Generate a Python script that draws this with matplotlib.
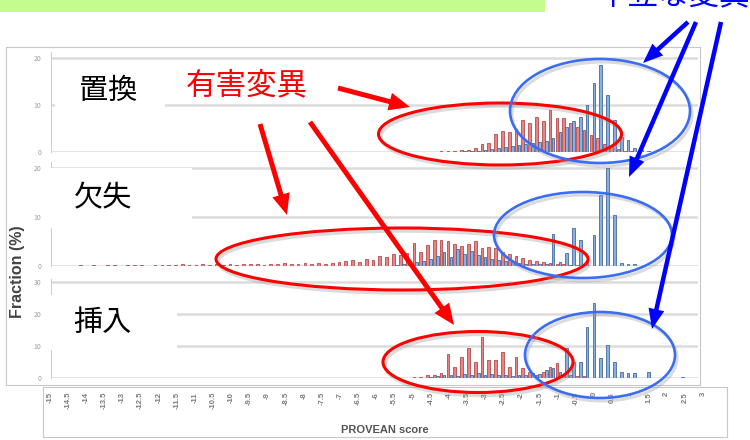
import numpy as np
import matplotlib
matplotlib.use('Agg')
import matplotlib.pyplot as plt
from matplotlib.patches import Ellipse, Rectangle, FancyArrow

plt.rcParams['font.family'] = ['Noto Sans CJK JP', 'DejaVu Sans']

W, H = 750, 440
n_bins = 95

# 置換 (substitution): red = deleterious, blue = neutral, values in %
sub_red_start = 56
sub_red = [0.1, 0.2, 0.2, 0.3, 0.4, 0.5, 0.8,
           1.8, 2.0, 3.8, 4.5, 4.3, 4.8, 6.8, 6.1, 7.5, 6.5,
           8.9, 7.2, 7.2, 6.1, 5.4, 4.7, 3.6, 2.9, 1.8, 1.0,
           0.6, 0.3, 0.2]
sub_blue_start = 60
sub_blue = [0.2, 0.3, 0.3, 0.5, 0.6, 0.8, 1.0, 1.2, 1.5, 1.8,
            2.0, 2.2, 2.4, 2.9, 4.3, 5.4, 6.5, 7.5, 10.0, 14.6,
            18.5, 12.1, 6.8, 3.3, 2.5, 0.8, 0.4, 0.2]

# 欠失 (deletion)
del_red_start = 4
del_red = [0.2, 0.0, 0.3, 0.0, 0.2, 0.3, 0.0, 0.2, 0.3, 0.2,
           0.0, 0.3, 0.2, 0.3, 0.2, 0.4, 0.3, 0.2, 0.4, 0.3,
           0.4, 0.3, 0.5, 0.3, 0.4, 0.5, 0.4, 0.3, 0.5, 0.4,
           0.6, 0.4, 0.5, 0.6, 0.5, 0.7, 0.5, 0.6, 0.8,
           1.0, 1.2, 0.8, 1.4, 1.2, 2.0, 1.8, 2.4, 2.2, 2.6,
           4.6, 2.8, 4.3, 5.3, 5.3, 5.0, 4.5, 4.0, 4.5, 5.0,
           3.6, 3.9, 3.6, 2.9, 2.4, 2.0, 1.6, 1.2, 1.0, 0.9,
           0.7, 0.5, 0.5, 0.3, 0.3]
del_blue_start = 50
del_blue = [0.3, 0.5, 0.4, 0.8, 1.0, 1.5, 2.0, 2.8, 1.8, 3.5,
            2.5, 3.0, 2.2, 1.8, 1.5, 1.2, 1.0, 0.8, 0.6, 0.5,
            0.5, 0.4, 0.4, 6.5, 0.8, 2.6, 7.7, 5.3, 1.0, 6.3,
            14.5, 20.0, 10.4, 0.6, 0.5, 0.5]

# 挿入 (insertion)
ins_red_start = 53
ins_red = [0.3, 0.4, 0.8, 1.0, 1.5, 7.4, 3.5, 6.4, 9.3, 5.1,
           12.9, 5.6, 5.6, 8.2, 3.5, 6.4, 3.0, 2.0, 1.0, 2.0,
           3.5, 4.6, 1.0, 0.8, 0.5, 0.5]
ins_blue_start = 55
ins_blue = [0.3, 0.5, 0.8, 1.0, 0.6, 1.2, 0.8, 1.5, 1.0, 1.2,
            0.8, 1.0, 0.6, 0.8, 1.0, 1.5, 1.2, 2.5, 3.0, 2.0,
            9.3, 5.1, 5.1, 16.0, 23.3, 6.1, 10.3, 5.1, 2.0, 1.5,
            1.5, 0.0, 2.0, 0.0, 0.0, 0.0, 0.0, 0.4]

panel_names = ["置換", "欠失", "挿入"]
panel_yticks = [[0, 10, 20], [0, 10, 20], [0, 10, 20, 30]]
panel_ymax = [21.3, 21.2, 30.9]
# x tick strip (separate pasted strip under the chart)
score_labels = ["%g" % v for v in np.arange(-15, 3.01, 0.5)]
xlabel = "PROVEAN score"
ylabel = "Fraction (%)"
bad_label = "有害変異"
neutral_label = "中立な変異"


def full(start, vals):
    a = np.zeros(n_bins)
    a[start:start + len(vals)] = vals
    return a


series = [(full(sub_red_start, sub_red), full(sub_blue_start, sub_blue)),
          (full(del_red_start, del_red), full(del_blue_start, del_blue)),
          (full(ins_red_start, ins_red), full(ins_blue_start, ins_blue))]

fig = plt.figure(figsize=(W / 100, H / 100), dpi=100)


def px_axes(x0, y0, x1, y1, **kw):
    return fig.add_axes([x0 / W, 1 - y1 / H, (x1 - x0) / W, (y1 - y0) / H], **kw)


# frame of the chart
frame = px_axes(6, 47, 700, 385)
frame.set_xticks([]); frame.set_yticks([])
for s in frame.spines.values():
    s.set_color('#c8c8c8')

panel_px = [(52, 152), (162, 266), (279, 378)]
idx = np.arange(n_bins)
for k, (y0, y1) in enumerate(panel_px):
    ax = px_axes(51, y0, 698, y1)
    ax.patch.set_alpha(0)
    red, blue = series[k]
    ax.bar(idx - 0.22, red, width=0.4, color='#e58585', edgecolor='#b84a4a', lw=0.6)
    ax.bar(idx + 0.22, blue, width=0.4, color='#8ab0e0', edgecolor='#44699f', lw=0.6)
    ax.set_xlim(-0.5, n_bins - 0.5)
    ax.set_ylim(0, panel_ymax[k])
    ax.set_yticks(panel_yticks[k])
    ax.set_xticks([])
    ax.yaxis.grid(True, color='#dcdcdc', lw=1.8)
    ax.set_axisbelow(True)
    for side in ['top', 'right', 'bottom']:
        ax.spines[side].set_visible(False)
    ax.spines['left'].set_color('#d0d0d0')
    ax.tick_params(axis='y', length=0, labelsize=5, labelcolor='#a0a0a0', pad=7)

# tick label strip
strip = px_axes(43, 387, 727, 437)
strip.set_xlim(-7 / 18.14, (727 - 50) / 18.14)
strip.set_ylim(0, 1)
strip.set_xticks([]); strip.set_yticks([])
for s in strip.spines.values():
    s.set_color('#c8c8c8')
for i, lab in enumerate(score_labels):
    strip.text(i, 0.9, lab, rotation=90, ha='center', va='top', fontsize=5.5,
               color='#7a7a7a', fontweight='bold',
               family=['Liberation Sans', 'DejaVu Sans'])
strip.text(0.5, 0.14, xlabel, transform=strip.transAxes, ha='center', va='center',
           fontsize=8, fontweight='bold', color='#555555',
           family=['Liberation Sans', 'DejaVu Sans'])

# overlay in pixel coordinates
ov = fig.add_axes([0, 0, 1, 1], zorder=10)
ov.set_xlim(0, W); ov.set_ylim(H, 0)
ov.axis('off')
ov.patch.set_alpha(0)

ov.add_patch(Rectangle((0, 0), 545, 12, color='#c4fd8e', lw=0))
ov.text(597, -4, neutral_label, color='#0000ff', fontsize=22, ha='left', va='center')

ov.text(18, 272, ylabel, rotation=90, ha='center', va='center', fontsize=11.5,
        fontweight='bold', color='#444444', family=['Liberation Sans', 'DejaVu Sans'])

# white boxes with panel names
boxes = [(55, 62, 110, 58), (50, 168, 142, 60), (50, 295, 127, 55)]
name_pos = [(108, 91), (103, 198), (102, 323)]
for (bx, by, bw, bh), (tx, ty), name in zip(boxes, name_pos, panel_names):
    ov.add_patch(Rectangle((bx, by), bw, bh, color='white', lw=0))
    ov.text(tx, ty, name, fontsize=21, ha='center', va='center', color='black')

ov.text(247, 86, bad_label, fontsize=22, ha='center', va='center', color='#ff0000')

red_ell = [(500, 134, 243, 62), (402, 259, 372, 62), (478, 362, 190, 61)]
blue_ell = [(600, 111, 180, 104), (583, 235, 178, 86), (600, 355, 150, 86)]
for cx, cy, w, h in red_ell:
    ov.add_patch(Ellipse((cx + 2, cy + 3), w, h, fill=False, ec='#9a9a9a', lw=2.5, alpha=0.35))
    ov.add_patch(Ellipse((cx, cy), w, h, fill=False, ec='#ff0000', lw=2.2))
for cx, cy, w, h in blue_ell:
    ov.add_patch(Ellipse((cx + 2, cy + 3), w, h, fill=False, ec='#9a9a9a', lw=2.2, alpha=0.35))
    ov.add_patch(Ellipse((cx, cy), w, h, fill=False, ec='#3b6cf5', lw=1.9))

red_arrows = [((338, 88), (410, 107)), ((260, 124), (287, 215)), ((310, 122), (454, 325))]
blue_arrows = [((688, 22), (643, 63)), ((696, 22), (629, 177)), ((721, 22), (652, 329))]
for (x0, y0), (x1, y1) in red_arrows:
    ov.add_patch(FancyArrow(x0, y0, x1 - x0, y1 - y0, width=5, head_width=18,
                            head_length=21, length_includes_head=True,
                            color='#ff0000', lw=0))
for (x0, y0), (x1, y1) in blue_arrows:
    ov.add_patch(FancyArrow(x0, y0, x1 - x0, y1 - y0, width=4.5, head_width=16,
                            head_length=20, length_includes_head=True,
                            color='#0000ff', lw=0))

fig.savefig('out.png', dpi=100)
